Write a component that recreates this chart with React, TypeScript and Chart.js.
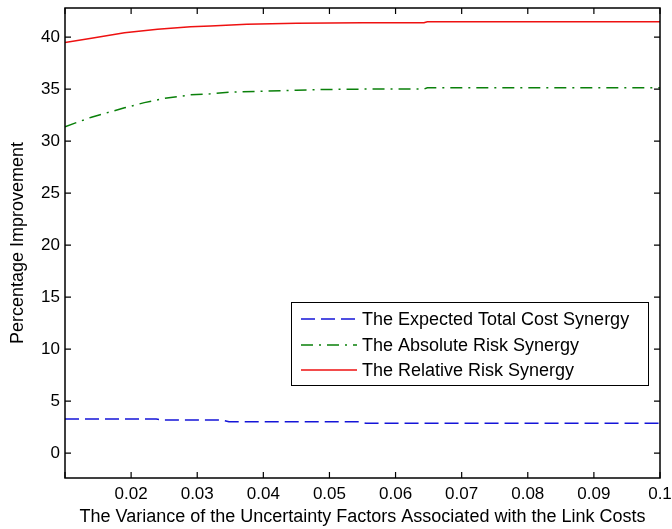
import React, { useEffect, useRef } from "react";
import { Chart, registerables } from "chart.js";

Chart.register(...registerables);

// ---- data ----
const SERIES_NAMES = [
  "The Expected Total Cost Synergy",
  "The Absolute Risk Synergy",
  "The Relative Risk Synergy",
];

const COST_X = [0.01, 0.015, 0.02, 0.0238, 0.0248, 0.03, 0.0338, 0.0348, 0.04, 0.045, 0.05, 0.0545, 0.0555, 0.06, 0.07, 0.08, 0.09, 0.1];
const COST_Y = [3.27, 3.27, 3.27, 3.27, 3.17, 3.17, 3.17, 3.01, 3.01, 3.01, 3.01, 3.01, 2.87, 2.87, 2.87, 2.87, 2.87, 2.87];

const ABS_X = [0.01, 0.014, 0.019, 0.022, 0.025, 0.029, 0.032, 0.035, 0.04, 0.045, 0.05, 0.055, 0.0643, 0.0648, 0.07, 0.08, 0.09, 0.1];
const ABS_Y = [31.38, 32.3, 33.2, 33.7, 34.1, 34.45, 34.55, 34.7, 34.8, 34.9, 34.97, 35.0, 35.0, 35.12, 35.12, 35.12, 35.12, 35.12];

const REL_X = [0.01, 0.014, 0.019, 0.024, 0.029, 0.032, 0.0375, 0.045, 0.055, 0.0643, 0.0648, 0.07, 0.08, 0.09, 0.1];
const REL_Y = [39.47, 39.9, 40.43, 40.75, 41.0, 41.08, 41.24, 41.33, 41.38, 41.38, 41.48, 41.48, 41.48, 41.48, 41.48];

const X_TICKS = [0.01, 0.02, 0.03, 0.04, 0.05, 0.06, 0.07, 0.08, 0.09, 0.1];
const X_TICK_LABELS = ["", "0.02", "0.03", "0.04", "0.05", "0.06", "0.07", "0.08", "0.09", "0.1"];
const Y_TICKS = [0, 5, 10, 15, 20, 25, 30, 35, 40];
const Y_TICK_LABELS = ["0", "5", "10", "15", "20", "25", "30", "35", "40"];

const X_MIN = 0.01;
const X_MAX = 0.1;
const Y_MIN = -2.4;
const Y_MAX = 42.8;

const X_TITLE = "The Variance of the Uncertainty Factors Associated with the Link Costs";
const Y_TITLE = "Percentage Improvement";

// ---- styles ----
const FONT_FAMILY = '"Liberation Sans", Arial, Helvetica, sans-serif';
const TICK_FONT_SIZE = 17;
const TITLE_FONT_SIZE = 18;
const LEGEND_FONT_SIZE = 18;
const COLORS = ["#1414d8", "#0a800a", "#ee1111"];
const DASHES: number[][] = [[14, 6], [12, 6, 2, 6], []];
const LINE_WIDTH = 1.5;

const toPoints = (xs: number[], ys: number[]) => xs.map((x, i) => ({ x, y: ys[i] }));

const framePlugin = {
  id: "matlabFrame",
  afterDatasetsDraw(chart: any) {
    const { ctx, chartArea: a, scales } = chart;
    ctx.save();
    // box
    ctx.strokeStyle = "#000";
    ctx.lineWidth = 1.5;
    ctx.setLineDash([]);
    ctx.strokeRect(a.left, a.top, a.right - a.left, a.bottom - a.top);
    // inward ticks on all sides
    const L = 6;
    ctx.lineWidth = 1.2;
    ctx.beginPath();
    for (const v of X_TICKS) {
      const px = scales.x.getPixelForValue(v);
      ctx.moveTo(px, a.bottom);
      ctx.lineTo(px, a.bottom - L);
      ctx.moveTo(px, a.top);
      ctx.lineTo(px, a.top + L);
    }
    for (const v of Y_TICKS) {
      const py = scales.y.getPixelForValue(v);
      ctx.moveTo(a.left, py);
      ctx.lineTo(a.left + L, py);
      ctx.moveTo(a.right, py);
      ctx.lineTo(a.right - L, py);
    }
    ctx.stroke();

    // legend box (inside axes, lower right)
    const bx = 291, by = 302, bw = 357, bh = 83;
    ctx.fillStyle = "#fff";
    ctx.fillRect(bx, by, bw, bh);
    ctx.strokeStyle = "#000";
    ctx.lineWidth = 1;
    ctx.strokeRect(bx + 0.5, by + 0.5, bw, bh);
    const rows = [319, 345, 370];
    ctx.font = `${LEGEND_FONT_SIZE}px ${FONT_FAMILY}`;
    ctx.textBaseline = "middle";
    ctx.textAlign = "left";
    chart.data.datasets.forEach((ds: any, i: number) => {
      const y = rows[i];
      ctx.beginPath();
      ctx.strokeStyle = ds.borderColor;
      ctx.lineWidth = LINE_WIDTH;
      ctx.setLineDash(ds.borderDash || []);
      ctx.moveTo(301, y);
      ctx.lineTo(357, y);
      ctx.stroke();
      ctx.setLineDash([]);
      ctx.fillStyle = "#000";
      ctx.fillText(ds.label, 362, rows[i] + 1);
    });
    ctx.restore();
  },
};

export default function App() {
  const canvasRef = useRef<HTMLCanvasElement | null>(null);

  useEffect(() => {
    const canvas = canvasRef.current;
    if (!canvas) return;
    const datasets = [
      toPoints(COST_X, COST_Y),
      toPoints(ABS_X, ABS_Y),
      toPoints(REL_X, REL_Y),
    ].map((data, i) => ({
      label: SERIES_NAMES[i],
      data,
      borderColor: COLORS[i],
      backgroundColor: COLORS[i],
      borderWidth: LINE_WIDTH,
      borderDash: DASHES[i],
      pointRadius: 0,
      fill: false,
      tension: 0,
      showLine: true,
    }));

    const chart = new Chart(canvas, {
      type: "scatter",
      data: { datasets },
      plugins: [framePlugin],
      options: {
        animation: false,
        responsive: false,
        maintainAspectRatio: false,
        layout: { padding: { top: 8, right: 12, left: 0, bottom: 0 } },
        plugins: {
          legend: { display: false },
          tooltip: { enabled: false },
          title: { display: false },
        },
        scales: {
          x: {
            type: "linear",
            min: X_MIN,
            max: X_MAX,
            afterBuildTicks: (s: any) => {
              s.ticks = X_TICKS.map((v) => ({ value: v }));
            },
            afterFit: (s: any) => {
              s.height = 51;
              s.paddingLeft = 0;
              s.paddingRight = 0;
            },
            grid: { display: false, drawTicks: false },
            border: { display: false },
            ticks: {
              autoSkip: false,
              maxRotation: 0,
              minRotation: 0,
              padding: 6,
              color: "#000",
              font: { family: FONT_FAMILY, size: TICK_FONT_SIZE },
              callback: (_v: any, i: number) => X_TICK_LABELS[i],
            },
            title: {
              display: true,
              text: X_TITLE,
              color: "#000",
              font: { family: FONT_FAMILY, size: TITLE_FONT_SIZE },
              padding: { top: 0, bottom: 1 },
            },
          },
          y: {
            type: "linear",
            min: Y_MIN,
            max: Y_MAX,
            afterBuildTicks: (s: any) => {
              s.ticks = Y_TICKS.map((v) => ({ value: v }));
            },
            afterFit: (s: any) => {
              s.width = 65;
              s.paddingTop = 0;
              s.paddingBottom = 0;
            },
            grid: { display: false, drawTicks: false },
            border: { display: false },
            ticks: {
              autoSkip: false,
              padding: 5,
              color: "#000",
              font: { family: FONT_FAMILY, size: TICK_FONT_SIZE },
              callback: (_v: any, i: number) => Y_TICK_LABELS[i],
            },
            title: {
              display: true,
              text: Y_TITLE,
              color: "#000",
              font: { family: FONT_FAMILY, size: TITLE_FONT_SIZE },
              padding: { top: 7, bottom: 0 },
            },
          },
        },
      },
    } as any);

    return () => {
      chart.destroy();
    };
  }, []);

  return (
    <div style={{ position: "absolute", left: 0, top: 0, width: 672, height: 529, background: "#fff" }}>
      <canvas ref={canvasRef} width={672} height={529} style={{ display: "block" }} />
    </div>
  );
}
